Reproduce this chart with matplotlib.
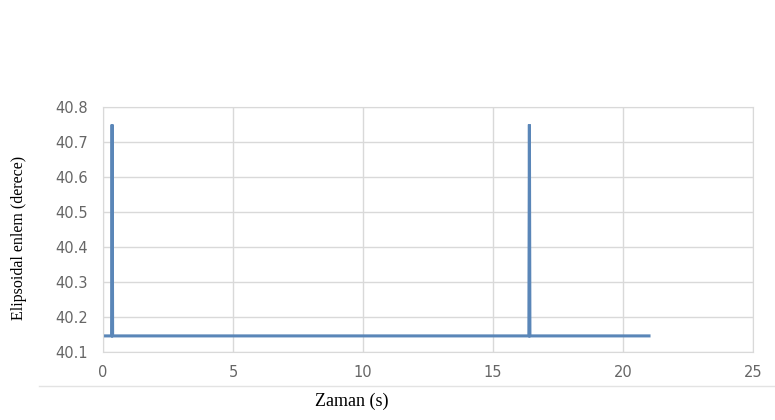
import matplotlib.pyplot as plt
from matplotlib.lines import Line2D

# Elipsoidal enlem zaman serisi (iki ani sicrama)
zaman = [0, 0.33, 0.35, 0.37, 16.38, 16.40, 16.42, 21.0]
enlem = [40.146, 40.146, 40.75, 40.146, 40.146, 40.75, 40.146, 40.146]

x_ticks = [0, 5, 10, 15, 20, 25]
y_ticks = [40.1, 40.2, 40.3, 40.4, 40.5, 40.6, 40.7, 40.8]

fig = plt.figure(figsize=(7.75, 4.2), dpi=100)
ax = fig.add_axes([0.1329, 0.1619, 0.8387, 0.5833])

ax.plot(zaman, enlem, color="#5a86b8", linewidth=2.2, solid_joinstyle="miter")

ax.set_xlim(0, 25)
ax.set_ylim(40.1, 40.8)
ax.set_xticks(x_ticks)
ax.set_yticks(y_ticks)
ax.set_yticklabels([f"{v:.1f}" for v in y_ticks])

ax.grid(True, color="#d9d9d9", linewidth=1)
ax.set_axisbelow(True)
for s in ax.spines.values():
    s.set_color("#d9d9d9")
ax.tick_params(length=0, labelsize=10.5, labelcolor="#666666")
ax.tick_params(axis="y", pad=11)
ax.tick_params(axis="x", pad=9)

# eksen basliklari
fig.text(352 / 775, 1 - 401 / 420, "Zaman (s)", family="Liberation Serif",
         fontsize=13, ha="center", va="center")
fig.text(19 / 775, 1 - 238 / 420, "Elipsoidal enlem (derece)", family="Liberation Serif",
         fontsize=11.5, rotation=90, ha="center", va="center")

# ince ayirici cizgi
fig.add_artist(Line2D([0.05, 1.0], [1 - 386 / 420, 1 - 386 / 420], color="#e3e3e3", linewidth=1))

fig.savefig("out.png", dpi=100)
